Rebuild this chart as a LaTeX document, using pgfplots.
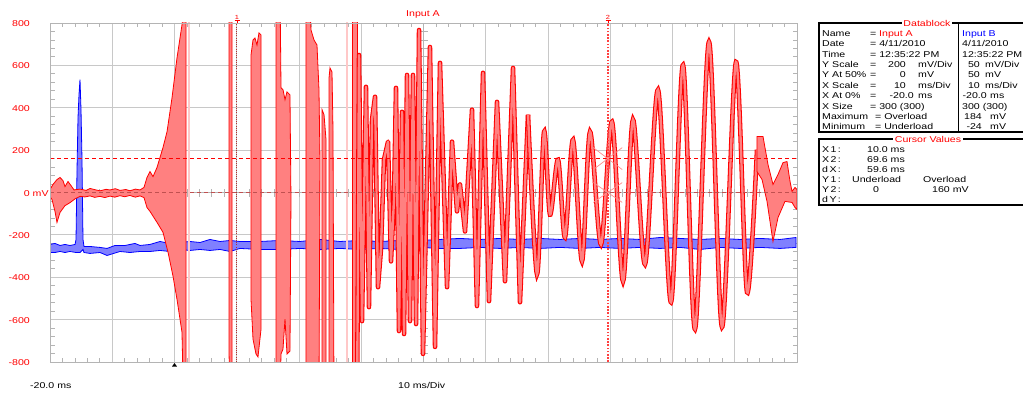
\documentclass[border=0pt]{standalone}
\usepackage{fontspec}
\setmainfont[FakeStretch=1.25]{Liberation Sans}
\usepackage{pgfplots}
\usepackage{pgfplotstable}
\pgfplotsset{compat=1.18}
\definecolor{pinkA}{HTML}{FF8080}
\definecolor{redA}{HTML}{FF0000}
\definecolor{blueB}{HTML}{0000FF}
\definecolor{blueF}{HTML}{8080FF}
\definecolor{gridc}{HTML}{C8C8C8}
\definecolor{framec}{HTML}{B4B4B4}
\definecolor{tickc}{HTML}{B4B4B4}
\definecolor{paleP}{HTML}{FFC8C8}
\definecolor{darkcur}{HTML}{B03030}
\definecolor{zerocur}{HTML}{C05050}
\newcommand\tf{\fontsize{8.5}{10}\selectfont}

% Input A, oscillating part (ms, mV)
\pgfplotstableread{
x y
29.32 -1068
29.64 649
30.12 -607
30.76 499
31.24 -541
31.73 344
32.21 452
32.69 -447
33.17 -268
33.65 155
34.30 240
34.78 -325
35.26 -33
35.58 494
36.06 -654
36.55 381
36.87 -668
37.35 555
37.83 -607
38.31 555
38.80 -621
39.28 767
39.92 -762
41.04 687
41.85 -729
42.65 612
43.78 -447
44.58 240
45.38 -89
45.86 38
46.67 -184
47.79 391
48.59 -536
49.56 565
50.52 -513
51.81 428
53.09 -419
54.38 588
55.50 -518
56.79 367
}\waveA
\pgfplotstableread{
x y
56.79 367
58.23 -386
59.36 287
60.32 -104
61.61 155
62.73 -212
64.02 249
65.46 -325
66.75 287
68.51 -245
70.28 334
72.05 -419
73.65 344
75.58 -339
77.67 485
79.76 -518
81.69 602
83.61 -645
85.86 711
87.95 -635
90.20 616
91.97 -471
93.57 202
}\waveB

\pgfplotsset{base/.style={at={(50bp,30bp)}, anchor=south west, scale only axis,
  width=747bp, height=339bp, xmin=-20, xmax=100}}

\begin{document}
\begin{tikzpicture}[x=1bp,y=1bp]
\path[use as bounding box] (0,0) rectangle (1023,392);

% graticule frame and grid
\begin{axis}[base, ymin=-800, ymax=800,
  xtick={-20,-10,...,100}, ytick={-800,-600,...,800},
  minor x tick num=4, minor y tick num=4,
  grid=major, major grid style={gridc, line width=0.8bp},
  tick align=inside, tick pos=both,
  major tick length=0pt, minor tick length=4.5bp,
  minor tick style={tickc, line width=0.8bp},
  axis line style={framec, line width=0.8bp},
  xticklabels={}, yticklabels={}, clip=false]
\addplot[draw=none] coordinates {(0,0)};
\end{axis}

% centre lines with ticks
\draw[framec, line width=0.8bp] (423.5,30) -- (423.5,369);
\draw[framec, line width=0.8bp] (50,199.5) -- (797,199.5);
\foreach \i in {1,...,39} \draw[tickc, line width=0.8bp] (419.5,30+\i*8.475) -- ++(8,0);
\foreach \i in {1,...,59} \draw[tickc, line width=0.8bp] (50+\i*12.45,195.5) -- ++(0,8);

% Input B (mV, 50 mV/div, 50 mV at centre)
\begin{axis}[base, ymin=-150, ymax=250, hide axis]
\addplot[fill=blueF, draw=blueB, line width=0.8bp] coordinates {
(-20.00,-11.3) (-19.20,-10.1) (-18.39,-12.5) (-17.59,-11.3) (-16.79,-12.5) (-15.98,-11.3)
(-15.82,-5.4) (-15.66,77.1) (-15.50,138.4) (-15.34,165.5) (-15.18,183.2) (-15.02,147.9)
(-14.86,88.9) (-14.70,-5.4) (-14.54,-13.7) (-13.57,-13.7) (-11.97,-14.8) (-10.84,-16.0)
(-9.56,-12.5) (-7.95,-12.5) (-6.35,-10.1) (-5.54,-12.5) (-3.94,-11.3) (-2.33,-7.8)
(-0.72,-10.1) (0.88,-9.0) (2.49,-7.8) (4.10,-9.0) (5.70,-5.4) (7.31,-7.8) (8.92,-6.6)
(10.52,-7.8) (13.73,-7.8) (16.95,-6.6) (20.16,-7.8) (23.37,-5.4) (26.59,-7.8) (29.80,-6.6)
(33.01,-7.8) (36.22,-6.6) (39.44,-6.6) (42.65,-5.4) (45.86,-4.2) (49.08,-5.4) (52.29,-4.2)
(55.50,-5.4) (58.71,-4.2) (61.93,-5.4) (65.14,-4.2) (68.35,-5.4) (71.57,-4.2) (74.78,-5.4)
(77.99,-3.1) (81.20,-4.2) (84.42,-5.4) (87.63,-4.2) (90.84,-5.4) (94.06,-4.2) (97.27,-5.4)
(99.84,-3.1)
(99.84,-14.8) (97.27,-16.0) (94.06,-14.8) (90.84,-16.0) (87.63,-14.8) (84.42,-17.2)
(81.20,-14.8) (77.99,-16.0) (74.78,-14.8) (71.57,-16.0) (68.35,-14.8) (65.14,-16.0)
(61.93,-14.8) (58.71,-16.0) (55.50,-14.8) (52.29,-16.0) (49.08,-14.8) (45.86,-16.0)
(42.65,-16.0) (39.44,-14.8) (36.22,-17.2) (33.01,-16.0) (29.80,-17.2) (26.59,-16.0)
(23.37,-17.2) (20.16,-16.0) (16.95,-17.2) (13.73,-17.2) (10.52,-16.0) (8.92,-19.6)
(7.31,-17.2) (5.70,-18.4) (4.10,-17.2) (2.49,-18.4) (0.88,-17.2) (-0.72,-19.6)
(-2.33,-18.4) (-3.94,-19.6) (-5.54,-19.6) (-7.15,-20.8) (-8.76,-19.6) (-10.84,-24.3)
(-11.97,-20.8) (-13.57,-21.9) (-14.54,-20.8) (-14.70,-17.2) (-15.18,-20.8) (-15.82,-20.8)
(-16.79,-19.6) (-17.59,-20.8) (-18.39,-19.6) (-19.20,-20.8) (-20.00,-20.8)
} -- cycle;
\end{axis}

% Input A (mV, 200 mV/div)
\begin{axis}[base, ymin=-800, ymax=800, hide axis]
\addplot[fill=paleP, draw=none] coordinates {(2.17,-900) (2.49,-900) (2.49,900) (2.17,900)} -- cycle;
\addplot[fill=paleP, draw=none] coordinates {(27.55,-900) (27.87,-900) (27.87,900) (27.55,900)} -- cycle;
\addplot[fill=pinkA, draw=redA, line width=0.8bp] coordinates {
(-20.00,14) (-19.52,38) (-18.88,61) (-18.39,71) (-17.91,56) (-17.59,28) (-17.11,52)
(-16.63,33) (-16.14,12) (-15.18,16) (-14.20,10) (-13.57,19) (-12.60,12) (-11.97,8)
(-11.00,15) (-10.36,12) (-9.50,18) (-8.76,10) (-7.80,14) (-7.15,8) (-6.30,16) (-5.54,12)
(-4.90,24) (-4.42,71) (-3.94,99) (-3.45,75) (-2.81,118) (-1.85,212)
(-1.20,287) (-0.40,447) (0.40,635) (1.20,791) (1.53,861) (1.69,955) (1.85,955)
(1.85,-974) (1.37,-880) (1.20,-659) (0.40,-504) (-0.24,-395) (-1.04,-282) (-1.85,-188)
(-2.81,-141) (-3.94,-89) (-4.42,-71) (-4.90,-24) (-5.54,-16) (-6.30,-22) (-7.15,-14)
(-8.00,-20) (-8.76,-15) (-9.60,-22) (-10.36,-17) (-11.20,-24) (-11.97,-18) (-12.80,-23)
(-13.57,-16) (-14.40,-21) (-15.18,-18) (-15.98,-30) (-16.79,-48) (-17.59,-62) (-18.39,-94)
(-18.88,-141) (-19.20,-89) (-19.68,-33) (-20.00,-19)
} -- cycle;
\addplot[fill=pinkA, draw=redA, line width=0.8bp] coordinates {
(8.76,950) (9.24,950) (9.24,-950) (8.92,-950) (8.76,-762)} -- cycle;
\addplot[fill=pinkA, draw=redA, line width=0.8bp] coordinates {
(12.29,649) (12.61,720) (12.93,729) (13.25,696) (13.57,753) (13.90,744) (13.90,-645)
(13.41,-776) (13.09,-762) (12.61,-692) (12.29,-504)} -- cycle;
\addplot[fill=pinkA, draw=redA, line width=0.8bp] coordinates {
(16.31,950) (16.95,950) (17.11,494) (17.43,485) (17.75,438) (18.07,475) (18.55,461)
(18.71,-33) (18.55,-748) (18.07,-762) (17.75,-598) (17.43,-739) (17.11,-762)
(16.95,-950) (16.31,-950)} -- cycle;
\addplot[fill=pinkA, draw=redA, line width=0.8bp] coordinates {
(21.12,950) (21.61,950) (21.93,767) (22.41,720) (22.89,696) (23.21,485) (23.37,150)
(23.21,-950) (21.12,-950)} -- cycle;
\addplot[fill=pinkA, draw=redA, line width=0.8bp] coordinates {
(23.70,391) (24.02,367) (24.34,249) (24.34,-950) (23.70,-950)} -- cycle;
\addplot[fill=pinkA, draw=redA, line width=0.8bp] coordinates {
(24.82,540) (24.98,588) (25.30,569) (25.46,296) (25.62,-950) (24.82,-950)} -- cycle;
\addplot[fill=pinkA, draw=redA, line width=0.8bp] coordinates {
(28.51,950) (29.32,950) (29.32,-950) (28.51,-950)} -- cycle;
\addplot[redA, line width=4.5bp, line join=round] table {\waveA};
\addplot[pinkA, line width=2.4bp, line join=round] table {\waveA};
\addplot[redA, line width=4.5bp, smooth, tension=0.5] table {\waveB};
\addplot[pinkA, line width=2.4bp, smooth, tension=0.5] table {\waveB};
\addplot[fill=pinkA, draw=redA, line width=0.8bp] coordinates {
(93.57,264) (94.54,264) (95.34,132) (96.14,38) (96.95,85) (97.75,141) (98.39,146)
(98.88,52) (99.20,5) (99.68,24) (100.0,14) (100.0,-80) (99.68,-71) (99.20,-47)
(98.07,-42) (96.95,-118) (96.14,-231) (95.18,-42) (94.38,61) (93.57,99)} -- cycle;
% cursors
\draw[redA, line width=0.8bp, dash pattern=on 4bp off 3bp] (axis cs:-20,160) -- (axis cs:100,160);
\draw[zerocur, line width=0.8bp, dash pattern=on 4bp off 3bp] (axis cs:-20,0) -- (axis cs:100,0);
\draw[darkcur, line width=0.8bp, dash pattern=on 1bp off 1.2bp] (axis cs:10,-800) -- (axis cs:10,800);
\draw[redA!75, line width=1.6bp, dash pattern=on 1.6bp off 1.6bp] (axis cs:69.6,-800) -- (axis cs:69.6,800);
\draw[redA!45, line width=0.7bp] (axis cs:67.27,212) -- (axis cs:71.93,108) (axis cs:67.27,108) -- (axis cs:71.93,212);
\draw[redA!45, line width=0.7bp] (axis cs:67.27,47) -- (axis cs:71.93,-47) (axis cs:67.27,-47) -- (axis cs:71.93,47);
\end{axis}

% frame again
\draw[framec, line width=0.8bp] (50,30) rectangle (797,369);
% trigger marker
\fill[black] (172,25.5) -- (177,25.5) -- (174.5,29) -- cycle;

% y labels
\begin{scope}[every node/.style={anchor=base east, inner sep=0pt, text=redA, font=\tf}]
\node at (30,365.45) {800};
\node at (30,323.05) {600};
\node at (30,280.7) {400};
\node at (30,238.35) {200};
\node at (30,195.95) {0\rlap{ mV}};
\node at (30,153.55) {-200};
\node at (30,111.15) {-400};
\node at (30,68.85) {-600};
\node at (30,26.45) {-800};
\end{scope}
\node[anchor=base west, inner sep=0pt, font=\tf] at (30,4) {-20.0 ms};
\node[anchor=base west, inner sep=0pt, font=\tf] at (398,4) {10 ms/Div};
\node[anchor=base west, inner sep=0pt, font=\tf, text=redA] at (406,375.6) {Input A};
% cursor tags
\node[anchor=base, inner sep=0pt, font=\fontsize{6}{7}\selectfont, text=redA] at (237,373) {1};
\draw[redA, line width=0.6bp] (234.5,371.5) -- (239.5,371.5) (237,371.5) -- (237,369);
\node[anchor=base, inner sep=0pt, font=\fontsize{6}{7}\selectfont, text=redA] at (608,373) {2};
\draw[redA, line width=0.6bp] (605.5,371.5) -- (610.5,371.5) (608,371.5) -- (608,369);

% Datablock
\draw[black, line width=1.3bp] (1100,369) -- (819,369) -- (819,260) -- (1100,260);
\draw[black, line width=0.8bp] (958,369) -- (958,260);
\node[fill=white, inner sep=1.5pt, font=\tf, text=redA] at (927,369) {Datablock};
\begin{scope}[every node/.style={anchor=base west, inner sep=0pt, font=\tf}]
\node at (822,355.6) {Name};      \node at (870,355.6) {=};
\node[text=redA] at (879,355.6) {Input A}; \node[text=blueB] at (962,355.6) {Input B};
\node at (822,345.2) {Date};      \node at (870,345.2) {= 4/11/2010}; \node at (962,345.2) {4/11/2010};
\node at (822,334.9) {Time};      \node at (870,334.9) {= 12:35:22 PM}; \node at (962,334.9) {12:35:22 PM};
\node at (822,324.5) {Y Scale};   \node at (870,324.5) {=};
\node[anchor=base east] at (906,324.5) {200}; \node at (918,324.5) {mV/Div};
\node[anchor=base east] at (980,324.5) {50}; \node at (985,324.5) {mV/Div};
\node at (822,314.1) {Y At 50\%}; \node at (870,314.1) {=};
\node[anchor=base east] at (906,314.1) {0}; \node at (918,314.1) {mV};
\node[anchor=base east] at (980,314.1) {50}; \node at (985,314.1) {mV};
\node at (822,303.7) {X Scale};   \node at (870,303.7) {=};
\node[anchor=base east] at (906,303.7) {10}; \node at (918,303.7) {ms/Div};
\node[anchor=base east] at (980,303.7) {10}; \node at (985,303.7) {ms/Div};
\node at (822,293.3) {X At 0\%};  \node at (870,293.3) {=};
\node[anchor=base east] at (914,293.3) {-20.0}; \node at (918,293.3) {ms};
\node[anchor=base east] at (987,293.3) {-20.0}; \node at (990,293.3) {ms};
\node at (822,282.9) {X Size};    \node at (870,282.9) {= 300 (300)}; \node at (962,282.9) {300 (300)};
\node at (822,272.6) {Maximum};   \node at (875,272.6) {= Overload};
\node[anchor=base east] at (982,272.6) {184}; \node at (990,272.6) {mV};
\node at (822,262.2) {Minimum};   \node at (875,262.2) {= Underload};
\node[anchor=base east] at (982,262.2) {-24}; \node at (990,262.2) {mV};
\end{scope}

% Cursor values
\draw[black, line width=1.3bp] (1100,253) -- (819,253) -- (819,187) -- (1100,187);
\node[fill=white, inner sep=1.5pt, font=\tf, text=redA] at (928,253) {Cursor Values};
\begin{scope}[every node/.style={anchor=base west, inner sep=0pt, font=\tf}]
\node at (822,240) {X\,1\,:}; \node at (867,240) {10.0 ms};
\node at (822,230) {X\,2\,:}; \node at (867,230) {69.6 ms};
\node at (822,220) {d\,X\,:}; \node at (867,220) {59.6 ms};
\node at (822,210) {Y\,1\,:}; \node at (852,210) {Underload}; \node at (923,210) {Overload};
\node at (822,200) {Y\,2\,:}; \node at (873,200) {0}; \node at (932,200) {160 mV};
\node at (822,190) {d\,Y\,:};
\end{scope}
\end{tikzpicture}
\end{document}
